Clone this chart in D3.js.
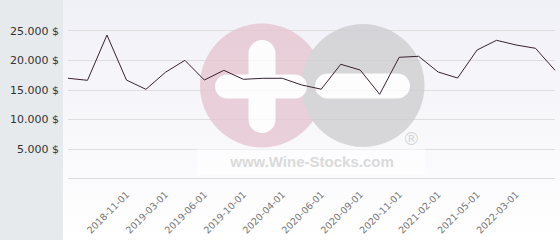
<!DOCTYPE html>
<html>
<head>
<meta charset="utf-8">
<script src="https://cdn.jsdelivr.net/npm/d3@7"></script>
<style>
  html, body { margin: 0; padding: 0; background: #fff; }
  svg { display: block; }
</style>
</head>
<body>
<svg id="chart" width="560" height="240"></svg>
<script>
// ---- data ----
const dates = [
  "2018-05-01", "2018-07-01", "2018-09-01", "2018-11-01", "2019-01-01",
  "2019-03-01", "2019-04-01", "2019-06-01", "2019-08-01", "2019-10-01",
  "2020-01-01", "2020-04-01", "2020-05-01", "2020-06-01", "2020-07-01",
  "2020-09-01", "2020-10-01", "2020-11-01", "2020-12-01", "2021-02-01",
  "2021-03-01", "2021-05-01", "2021-10-01", "2022-03-01", "2022-05-01",
  "2022-07-01"
];
const prices = [
  16900, 16550, 24200, 16600, 15030,
  17900, 19930, 16600, 18240, 16720,
  16890, 16890, 15760, 15050, 19260,
  18290, 14190, 20440, 20610, 17960,
  16940, 21670, 23310, 22520, 21960,
  18240
];
const tickLabels = [
  "2018-11-01", "2019-03-01", "2019-06-01", "2019-10-01", "2020-04-01",
  "2020-06-01", "2020-09-01", "2020-11-01", "2021-02-01", "2021-05-01",
  "2022-03-01"
];
const yTicks = [5000, 10000, 15000, 20000, 25000];

// ---- drawing ----
const W = 560, H = 240;
const svg = d3.select("#chart");
const plotLeft = 68, plotRight = 555, plotTop = 30.3, plotBottom = 178.3;

const defs = svg.append("defs");
const grad = defs.append("linearGradient").attr("id", "bg")
  .attr("x1", 0).attr("y1", 0).attr("x2", 0).attr("y2", 1);
grad.append("stop").attr("offset", "0%").attr("stop-color", "#f0f0f7");
grad.append("stop").attr("offset", "100%").attr("stop-color", "#ffffff");

// plot background
svg.append("rect").attr("x", 63).attr("y", 0).attr("width", W - 63).attr("height", H)
  .attr("fill", "url(#bg)");
// left panel
svg.append("rect").attr("x", 0).attr("y", 0).attr("width", 63).attr("height", H)
  .attr("fill", "#e6eaed");

const x = d3.scalePoint().domain(dates).range([plotLeft, plotRight]);
const y = d3.scaleLinear().domain([0, 25000]).range([plotBottom, plotTop]);

// gridlines
const yAxisGrid = d3.axisLeft(y).tickValues([0].concat(yTicks))
  .tickSize(-(plotRight - plotLeft)).tickFormat("");
const gGrid = svg.append("g").attr("transform", `translate(${plotLeft},0)`).call(yAxisGrid);
gGrid.select(".domain").remove();
gGrid.selectAll(".tick line").attr("stroke", "#dedede").attr("stroke-width", 1)
  .attr("shape-rendering", "crispEdges");

// watermark
const wm = svg.append("g").attr("opacity", 0.8);
const cy = 85.5;
wm.append("circle").attr("cx", 262).attr("cy", cy).attr("r", 62).attr("fill", "#e6c6d1");
wm.append("circle").attr("cx", 363).attr("cy", cy).attr("r", 61.5).attr("fill", "#cfcfd2");
// plus
wm.append("rect").attr("x", 248.5).attr("y", 40).attr("width", 27).attr("height", 93)
  .attr("rx", 13.5).attr("fill", "#ffffff");
wm.append("rect").attr("x", 215).attr("y", 74.5).attr("width", 92).attr("height", 24)
  .attr("rx", 12).attr("fill", "#ffffff");
// minus
wm.append("rect").attr("x", 315).attr("y", 73.5).attr("width", 95).attr("height", 25)
  .attr("rx", 12.5).attr("fill", "#ffffff");
svg.append("text").attr("x", 411.5).attr("y", 145).attr("text-anchor", "middle")
  .attr("font-family", "Liberation Sans, Arial, sans-serif").attr("font-size", 18)
  .attr("fill", "#d4d4d4").text("®");
svg.append("rect").attr("x", 197).attr("y", 149).attr("width", 228).attr("height", 26)
  .attr("fill", "#ffffff").attr("opacity", 0.5);
svg.append("text").attr("x", 312).attr("y", 166.5).attr("text-anchor", "middle")
  .attr("font-family", "Liberation Sans, Arial, sans-serif").attr("font-weight", "bold")
  .attr("font-size", 15).attr("fill", "#dadada").text("www.Wine-Stocks.com");

// y labels
const yAxis = d3.axisLeft(y).tickValues(yTicks).tickSize(0).tickPadding(0)
  .tickFormat(d => d3.format(",")(d).replace(/,/g, ".") + " $");
const gY = svg.append("g").attr("transform", "translate(59,0)").call(yAxis);
gY.select(".domain").remove();
gY.selectAll("text").attr("font-family", "DejaVu Sans, sans-serif")
  .attr("font-size", 11).attr("fill", "#333").attr("dy", "0.35em");

// x labels
const xAxis = d3.axisBottom(x).tickValues(tickLabels).tickSize(0).tickPadding(0);
const gX = svg.append("g").attr("transform", `translate(0,${plotBottom})`).call(xAxis);
gX.select(".domain").remove();
gX.selectAll("text")
  .attr("font-family", "DejaVu Sans, sans-serif").attr("font-size", 9.5)
  .attr("fill", "#777").attr("text-anchor", "end")
  .attr("dy", null).attr("y", null)
  .attr("transform", "translate(3,17) rotate(-45)");

// line
const line = d3.line().x((d, i) => x(dates[i])).y(d => y(d));
svg.append("path").datum(prices).attr("d", line)
  .attr("fill", "none").attr("stroke", "#3a2232").attr("stroke-width", 1);
</script>
</body>
</html>
